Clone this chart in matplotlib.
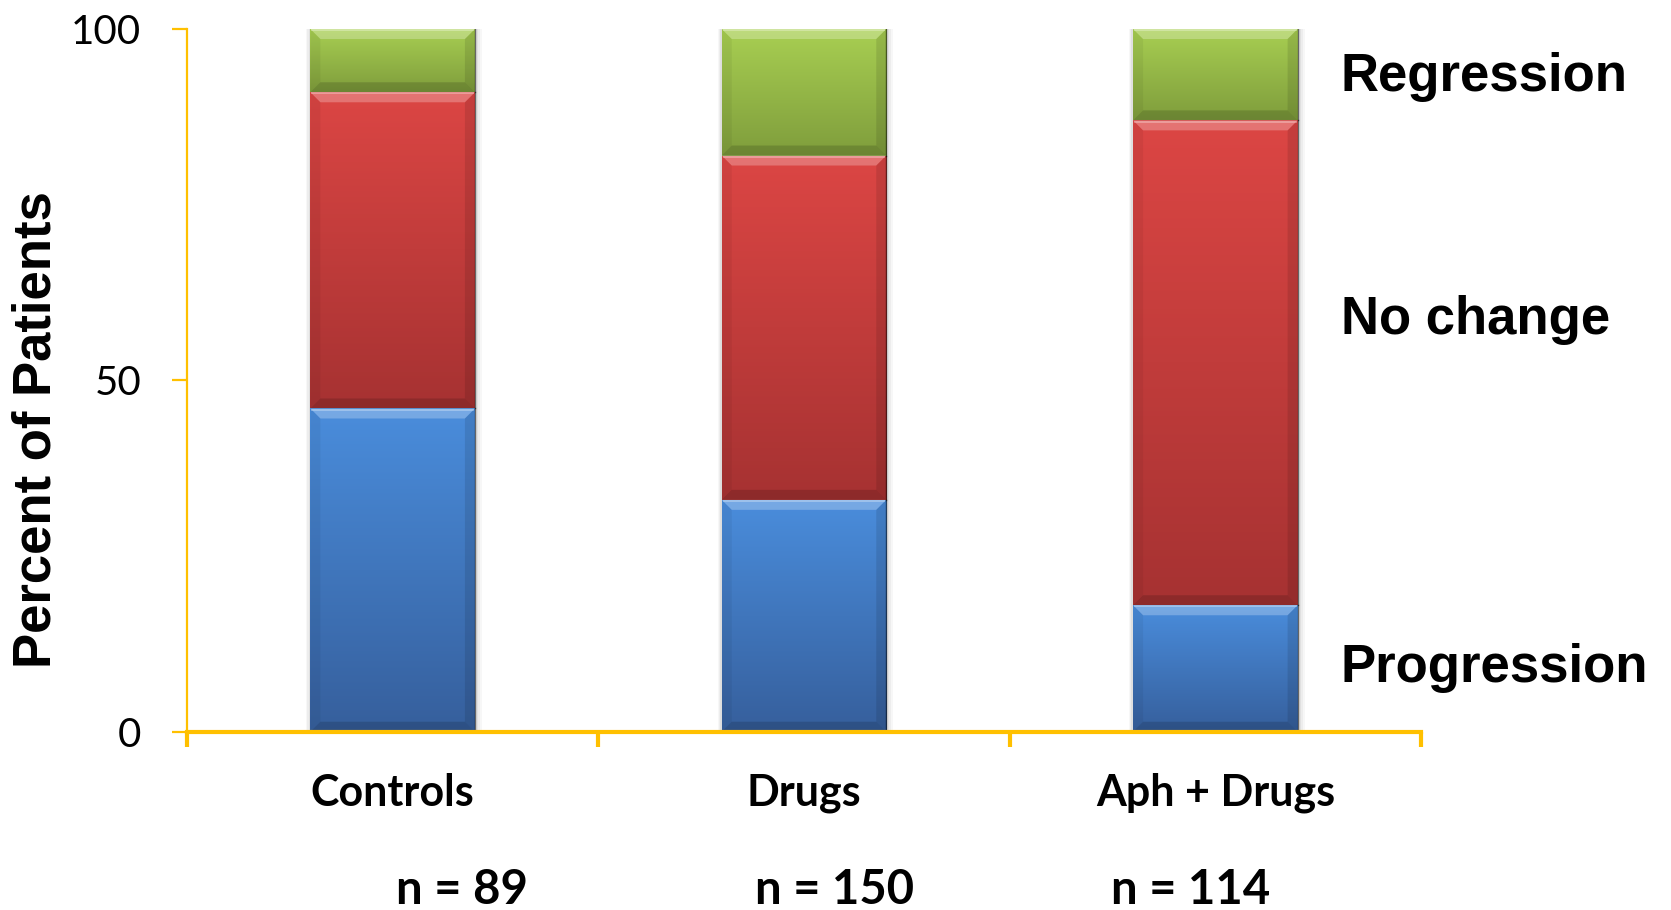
import numpy as np
import matplotlib
matplotlib.use("Agg")
import matplotlib.pyplot as plt
import matplotlib.transforms as mtransforms
from matplotlib.colors import to_rgb
from matplotlib.patches import Polygon, Rectangle

# Outcome shares (percent of patients) for each treatment group
groups = ['Controls', 'Drugs', 'Aph + Drugs']
n_patients = [89, 150, 114]
progression = [46, 33, 18]
no_change = [45, 49, 69]
regression = [9, 18, 13]

outcome_names = ['Progression', 'No change', 'Regression']
# (top of segment, bottom of segment) colours for the shaded bars
shades = {
    'Progression': ('#4a8ddc', '#365f9c'),
    'No change': ('#dc4644', '#a63232'),
    'Regression': ('#a8cf52', '#7f9d3c'),
}
axis_yellow = '#FFC000'

W, H, DPI = 16.71, 9.10, 100
fig = plt.figure(figsize=(W, H), dpi=DPI)
ax = fig.add_axes([0.1119, 0.1959, 0.7385, 0.7722])

x = np.arange(len(groups))
bar_w = 0.40
ax.set_xlim(-0.5, 2.5)
ax.set_ylim(0, 100)

# data units per pixel, used for the bevel edges
ax_w_px = 0.7385 * W * DPI
ax_h_px = 0.7722 * H * DPI
dx = 3.0 / ax_w_px
dy = 100.0 / ax_h_px


def shaded_segment(xc, bottom, height, c_top, c_bot):
    x0, x1 = xc - bar_w / 2, xc + bar_w / 2
    y0, y1 = bottom, bottom + height

    # soft drop shadow around the bar
    for k, a in [(7, 0.03), (5, 0.04), (3, 0.05)]:
        ax.add_patch(Rectangle((x0 - k * dx * 0.6, y0), (x1 - x0) + k * dx * 1.6, height,
                               facecolor='black', edgecolor='none', alpha=a, zorder=1))

    rect = Rectangle((x0, y0), x1 - x0, height, facecolor=c_top, edgecolor='none', zorder=2)
    ax.add_patch(rect)

    # vertical gradient from the light top to the darker bottom
    t, b = np.array(to_rgb(c_top)), np.array(to_rgb(c_bot))
    f = np.linspace(0, 1, 256)[:, None]
    grad = (t * (1 - f) + b * f)[:, None, :]
    im = ax.imshow(grad, extent=(x0, x1, y0, y1), origin='upper', aspect='auto',
                   interpolation='bicubic', zorder=2.1)
    im.set_clip_path(rect)

    bx, by = 10 * dx, 10 * dy
    bands = [
        ([(x0, y1), (x1, y1), (x1 - bx, y1 - by), (x0 + bx, y1 - by)], 'white', 0.25),
        ([(x0, y0), (x1, y0), (x1 - bx, y0 + by), (x0 + bx, y0 + by)], 'black', 0.15),
        ([(x0, y0), (x0, y1), (x0 + bx, y1 - by), (x0 + bx, y0 + by)], 'black', 0.05),
        ([(x1, y0), (x1, y1), (x1 - bx, y1 - by), (x1 - bx, y0 + by)], 'black', 0.10),
    ]
    for pts, col, a in bands:
        ax.add_patch(Polygon(pts, closed=True, facecolor=col, edgecolor='none',
                             alpha=a, zorder=2.2))
    # thin bright line along the top and dark line on the right edge
    ax.plot([x0 + dx, x1 - dx], [y1 - 1.2 * dy, y1 - 1.2 * dy], color='white',
            alpha=0.35, lw=1.2, zorder=2.3, solid_capstyle='butt')
    ax.plot([x1, x1], [y0, y1], color='black', alpha=0.55, lw=1.0, zorder=2.3)


bottoms = np.zeros(len(groups))
for name, vals in zip(outcome_names, [progression, no_change, regression]):
    c_top, c_bot = shades[name]
    for i in range(len(groups)):
        shaded_segment(x[i], bottoms[i], vals[i], c_top, c_bot)
    bottoms += np.array(vals)

ax.set_xlim(-0.5, 2.5)
ax.set_ylim(0, 100)

# yellow axes
for side in ['top', 'right']:
    ax.spines[side].set_visible(False)
ax.spines['left'].set_color(axis_yellow)
ax.spines['left'].set_linewidth(1.6)
ax.spines['bottom'].set_color(axis_yellow)
ax.spines['bottom'].set_linewidth(3.0)
ax.spines['left'].set_zorder(3)
ax.spines['bottom'].set_zorder(3)

ax.set_yticks([0, 50, 100])
ax.tick_params(axis='y', direction='out', length=11, width=1.6, color=axis_yellow,
               pad=22, labelsize=29)
for lab in ax.get_yticklabels():
    lab.set_fontfamily('Lato')

ax.set_xticks([-0.5, 0.5, 1.5, 2.5])
ax.set_xticklabels([])
ax.tick_params(axis='x', direction='out', length=11, width=3.0, color=axis_yellow)

# group names and sample sizes under the axis
trans = mtransforms.blended_transform_factory(ax.transData, ax.transAxes)
for i, g in enumerate(groups):
    ax.text(x[i], -0.087, g, transform=trans, ha='center', va='center',
            fontsize=31, fontweight='bold', family='Lato')
n_pos = [0.169, 1.075, 1.941]
for xp, n in zip(n_pos, n_patients):
    ax.text(xp, -0.225, f'n = {n}', transform=trans, ha='center', va='center',
            fontsize=34, fontweight='bold', family='Lato')

fig.text(37 / 1671, 1 - 430 / 910, 'Percent of Patients', rotation=90,
         ha='center', va='center', fontsize=38, fontweight='bold',
         family='Liberation Sans')

# outcome names to the right of the bars
fig.text(1341 / 1671, 1 - 77 / 910, 'Regression', ha='left', va='center',
         fontsize=38, fontweight='bold', family='Liberation Sans')
fig.text(1341 / 1671, 1 - 320 / 910, 'No change', ha='left', va='center',
         fontsize=38, fontweight='bold', family='Liberation Sans')
fig.text(1341 / 1671, 1 - 668 / 910, 'Progression', ha='left', va='center',
         fontsize=38, fontweight='bold', family='Liberation Sans')

fig.savefig('out.png', dpi=DPI)
